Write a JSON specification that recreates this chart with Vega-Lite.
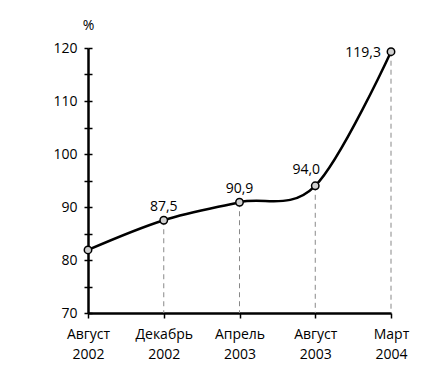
{
  "$schema": "https://vega.github.io/schema/vega-lite/v6.json",
  "autosize": "none",
  "width": 303,
  "height": 265,
  "padding": {"left": 88, "top": 48, "right": 56, "bottom": 64},
  "background": "white",
  "config": {
    "view": {"stroke": null},
    "font": "Open Sans",
    "locale": {"number": {"decimal": ",", "thousands": " ", "grouping": [3], "currency": ["", ""]}},
    "axis": {"labelFont": "Open Sans", "titleFont": "Open Sans", "labelColor": "#000", "titleColor": "#000", "grid": false}
  },
  "data": {
    "values": [
      {"period": "Август 2002", "value": 81.9},
      {"period": "Декабрь 2002", "value": 87.5},
      {"period": "Апрель 2003", "value": 90.9},
      {"period": "Август 2003", "value": 94.0},
      {"period": "Март 2004", "value": 119.3}
    ]
  },
  "encoding": {
    "x": {
      "field": "period", "type": "ordinal",
      "sort": ["Август 2002", "Декабрь 2002", "Апрель 2003", "Август 2003", "Март 2004"],
      "scale": {"type": "point", "padding": 0},
      "axis": {
        "title": null, "labelAngle": 0, "labelFontSize": 14,
        "labelExpr": "split(datum.label, ' ')",
        "labelLineHeight": 20, "labelPadding": 9,
        "domainColor": "#000", "domainWidth": 2.5,
        "tickColor": "#000", "tickWidth": 1.5, "tickSize": 5
      }
    }
  },
  "layer": [
    {
      "mark": {"type": "rule", "strokeDash": [5, 4], "color": "#888", "strokeWidth": 1},
      "transform": [{"filter": "datum.period != 'Август 2002'"}],
      "encoding": {
        "y": {"field": "value", "type": "quantitative", "scale": {"domain": [70, 120], "nice": false, "zero": false}, "axis": null},
        "y2": {"datum": 70}
      }
    },
    {
      "mark": {"type": "line", "interpolate": "cardinal", "color": "#000", "strokeWidth": 2.5},
      "encoding": {
        "y": {
          "field": "value", "type": "quantitative",
          "scale": {"domain": [70, 120], "nice": false, "zero": false},
          "axis": {
            "orient": "left",
            "values": [70, 75, 80, 85, 90, 95, 100, 105, 110, 115, 120],
            "labelExpr": "datum.value % 10 == 0 ? datum.label : ''",
            "labelFontSize": 14, "labelPadding": 7,
            "domainColor": "#000", "domainWidth": 2.5,
            "tickColor": "#000", "tickWidth": 1.5, "tickSize": 4,
            "title": "%", "titleAngle": 0, "titleFontSize": 14, "titleFontWeight": "normal",
            "titleAlign": "center", "titleBaseline": "alphabetic", "titleX": 0, "titleY": -19
          }
        }
      }
    },
    {
      "mark": {"type": "point", "shape": "circle", "filled": true, "fill": "#d0d0d0", "stroke": "#000", "strokeWidth": 1.5, "size": 55, "opacity": 1},
      "encoding": {
        "y": {
          "field": "value", "type": "quantitative",
          "scale": {"domain": [70, 120], "nice": false, "zero": false},
          "axis": {
            "orient": "left",
            "values": [70, 75, 80, 85, 90, 95, 100, 105, 110, 115, 120],
            "labels": false, "domain": false, "title": null,
            "tickColor": "#000", "tickWidth": 1.5, "tickSize": -4
          }
        }
      }
    },
    {
      "mark": {"type": "text", "fontSize": 14, "dy": -9, "baseline": "alphabetic", "align": "center"},
      "transform": [{"filter": "datum.period == 'Декабрь 2002' || datum.period == 'Апрель 2003'"}],
      "encoding": {
        "y": {"field": "value", "type": "quantitative", "scale": {"domain": [70, 120], "nice": false, "zero": false}, "axis": null},
        "text": {"field": "value", "type": "quantitative", "format": ".1f"}
      }
    },
    {
      "mark": {"type": "text", "fontSize": 14, "dy": -12, "dx": -9, "baseline": "alphabetic", "align": "center"},
      "transform": [{"filter": "datum.period == 'Август 2003'"}],
      "encoding": {
        "y": {"field": "value", "type": "quantitative", "scale": {"domain": [70, 120], "nice": false, "zero": false}, "axis": null},
        "text": {"field": "value", "type": "quantitative", "format": ".1f"}
      }
    },
    {
      "mark": {"type": "text", "fontSize": 14, "dx": -10, "dy": 5, "baseline": "alphabetic", "align": "right"},
      "transform": [{"filter": "datum.period == 'Март 2004'"}],
      "encoding": {
        "y": {"field": "value", "type": "quantitative", "scale": {"domain": [70, 120], "nice": false, "zero": false}, "axis": null},
        "text": {"field": "value", "type": "quantitative", "format": ".1f"}
      }
    }
  ],
  "resolve": {"axis": {"y": "independent"}}
}
